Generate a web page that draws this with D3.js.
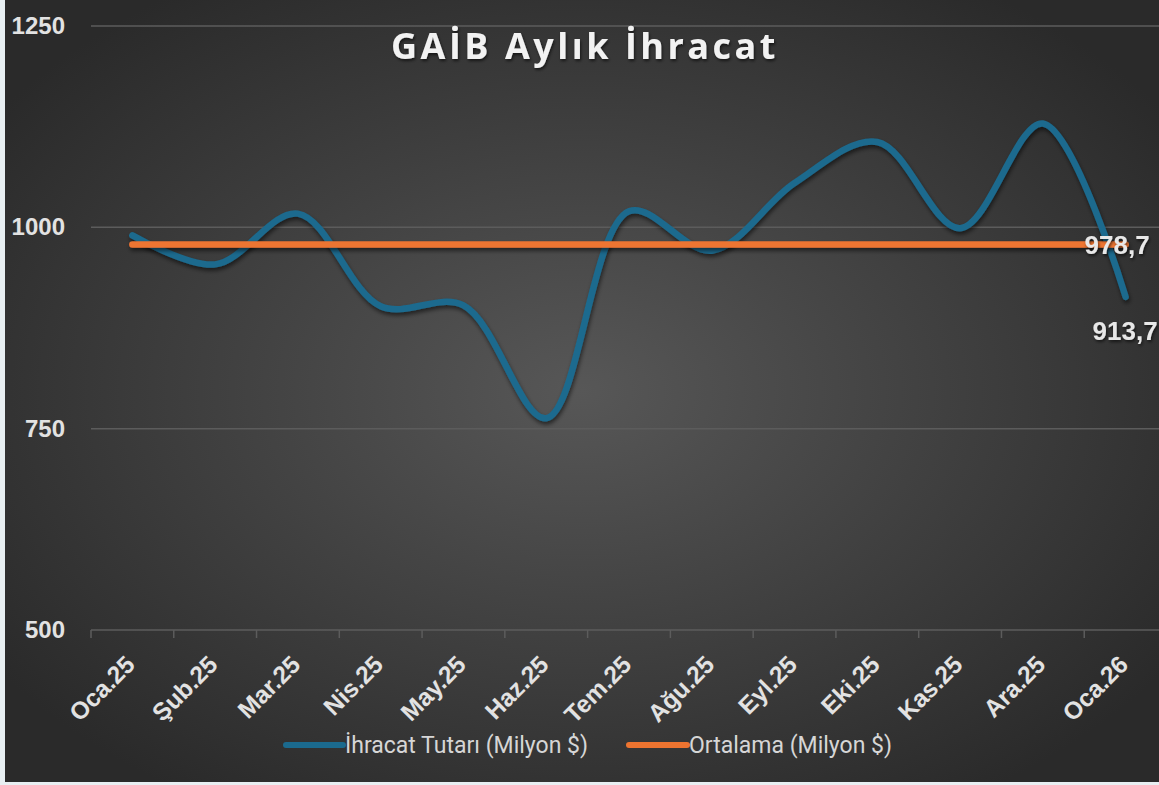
<!DOCTYPE html>
<html><head><meta charset="utf-8">
<script src="https://cdn.jsdelivr.net/npm/d3@7"></script>
<style>
html,body{margin:0;padding:0;background:#e8eff2;}
svg{display:block;}
</style></head>
<body>
<svg id="chart" width="1159" height="785"></svg>
<script>
const categories = ["Oca.25","Şub.25","Mar.25","Nis.25","May.25","Haz.25","Tem.25","Ağu.25","Eyl.25","Eki.25","Kas.25","Ara.25","Oca.26"];
const exportValues = [990,954,1017,902,903,763,1020,971,1055,1106,999,1129,913.7];
const averageValues = [978.7,978.7,978.7,978.7,978.7,978.7,978.7,978.7,978.7,978.7,978.7,978.7,978.7];
const yTicks = [500,750,1000,1250];
const seriesNames = ["İhracat Tutarı (Milyon $)","Ortalama (Milyon $)"];
const titleText = "GAİB Aylık İhracat";

const W = 1159, H = 785;
const svg = d3.select("#chart");
const defs = svg.append("defs");
const rg = defs.append("radialGradient").attr("id","bg").attr("cx","50%").attr("cy","50%").attr("r","62%");
rg.append("stop").attr("offset","0%").attr("stop-color","#575757");
rg.append("stop").attr("offset","100%").attr("stop-color","#2a2a2a");
const sh = defs.append("filter").attr("id","sh").attr("filterUnits","userSpaceOnUse")
  .attr("x",0).attr("y",0).attr("width",W).attr("height",H);
sh.append("feDropShadow").attr("dx",1).attr("dy",3).attr("stdDeviation",2).attr("flood-color","#000").attr("flood-opacity",0.55);
const tsh = defs.append("filter").attr("id","tsh").attr("filterUnits","userSpaceOnUse")
  .attr("x",0).attr("y",0).attr("width",W).attr("height",H);
tsh.append("feDropShadow").attr("dx",1).attr("dy",2).attr("stdDeviation",1.5).attr("flood-color","#000").attr("flood-opacity",0.6);

svg.append("rect").attr("x",5).attr("y",0).attr("width",W-5).attr("height",782).attr("fill","url(#bg)");

const x = d3.scaleBand().domain(categories).range([91,1167]);
const y = d3.scaleLinear().domain([500,1250]).range([630,26]);
const cx = d => x(d) + x.bandwidth()/2;

const labelFont = "Liberation Sans, Arial, sans-serif";

// gridlines
svg.append("g").selectAll("line").data(yTicks.slice(1)).join("line")
  .attr("x1",91).attr("x2",W).attr("y1",d=>y(d)).attr("y2",d=>y(d))
  .attr("stroke","#5c5c5c").attr("stroke-width",1.5);

// x axis
const xAxis = svg.append("g").attr("transform","translate(0,630)")
  .call(d3.axisBottom(x).tickSize(0).tickFormat(""));
xAxis.select(".domain").remove();
xAxis.append("line").attr("x1",91).attr("x2",W).attr("stroke","#5c5c5c").attr("stroke-width",1.5);
const bounds = categories.map(c => x(c));
xAxis.selectAll(".tk").data(bounds).join("line").attr("class","tk")
  .attr("x1",d=>d).attr("x2",d=>d).attr("y1",0).attr("y2",8)
  .attr("stroke","#5c5c5c").attr("stroke-width",1.5);
xAxis.selectAll(".lbl").data(categories).join("text").attr("class","lbl")
  .attr("transform",d=>`translate(${cx(d)+4},${36}) rotate(-45)`)
  .attr("text-anchor","end")
  .attr("font-family",labelFont).attr("font-weight","bold")
  .attr("font-size",24.5).attr("fill","#e2e2e2").text(d=>d);

// y axis labels
svg.append("g").selectAll("text").data(yTicks).join("text")
  .attr("x",65).attr("y",d=>y(d)+8).attr("text-anchor","end")
  .attr("font-family",labelFont).attr("font-weight","bold")
  .attr("font-size",24).attr("fill","#e2e2e2").text(d=>d);

// lines
const line = d3.line().x((d,i)=>cx(categories[i])).y(d=>y(d)).curve(d3.curveCatmullRom.alpha(0.5));
const avgLine = d3.line().x((d,i)=>cx(categories[i])).y(d=>y(d));
svg.append("path").datum(exportValues).attr("d",line)
  .attr("fill","none").attr("stroke","#1b6a8e").attr("stroke-width",6.5)
  .attr("stroke-linecap","round").attr("filter","url(#sh)");
svg.append("path").datum(averageValues).attr("d",avgLine)
  .attr("fill","none").attr("stroke","#ed7430").attr("stroke-width",6.5)
  .attr("stroke-linecap","round").attr("filter","url(#sh)");

// data labels
const last = categories.length-1;
svg.append("text").attr("x",cx(categories[last])-41).attr("y",y(averageValues[last])+10)
  .attr("font-family",labelFont).attr("font-weight","bold")
  .attr("font-size",26).attr("fill","#e8e8e8").attr("filter","url(#tsh)")
  .text(d3.format(".1f")(averageValues[last]).replace(".",","));
svg.append("text").attr("x",cx(categories[last])-33).attr("y",y(exportValues[last])+43)
  .attr("font-family",labelFont).attr("font-weight","bold")
  .attr("font-size",26).attr("fill","#e8e8e8").attr("filter","url(#tsh)")
  .text(d3.format(".1f")(exportValues[last]).replace(".",","));

// title
svg.append("text").attr("x",585).attr("y",59).attr("text-anchor","middle")
  .attr("font-family","Open Sans, sans-serif").attr("font-weight","bold")
  .attr("font-size",36).attr("letter-spacing",3.5).attr("fill","#f2f2f2")
  .attr("filter","url(#tsh)").text(titleText);

// legend
const legend = [
  {name:seriesNames[0], color:"#1b6a8e", x1:286, x2:343, tx:345},
  {name:seriesNames[1], color:"#ed7430", x1:629, x2:687, tx:689}
];
const lg = svg.append("g");
lg.selectAll("line").data(legend).join("line")
  .attr("x1",d=>d.x1).attr("x2",d=>d.x2).attr("y1",745).attr("y2",745)
  .attr("stroke",d=>d.color).attr("stroke-width",6).attr("stroke-linecap","round");
lg.selectAll("text").data(legend).join("text")
  .attr("x",d=>d.tx).attr("y",753)
  .attr("font-family","Roboto, sans-serif").attr("font-size",23)
  .attr("fill","#d6d6d6").text(d=>d.name);
</script>
</body></html>
